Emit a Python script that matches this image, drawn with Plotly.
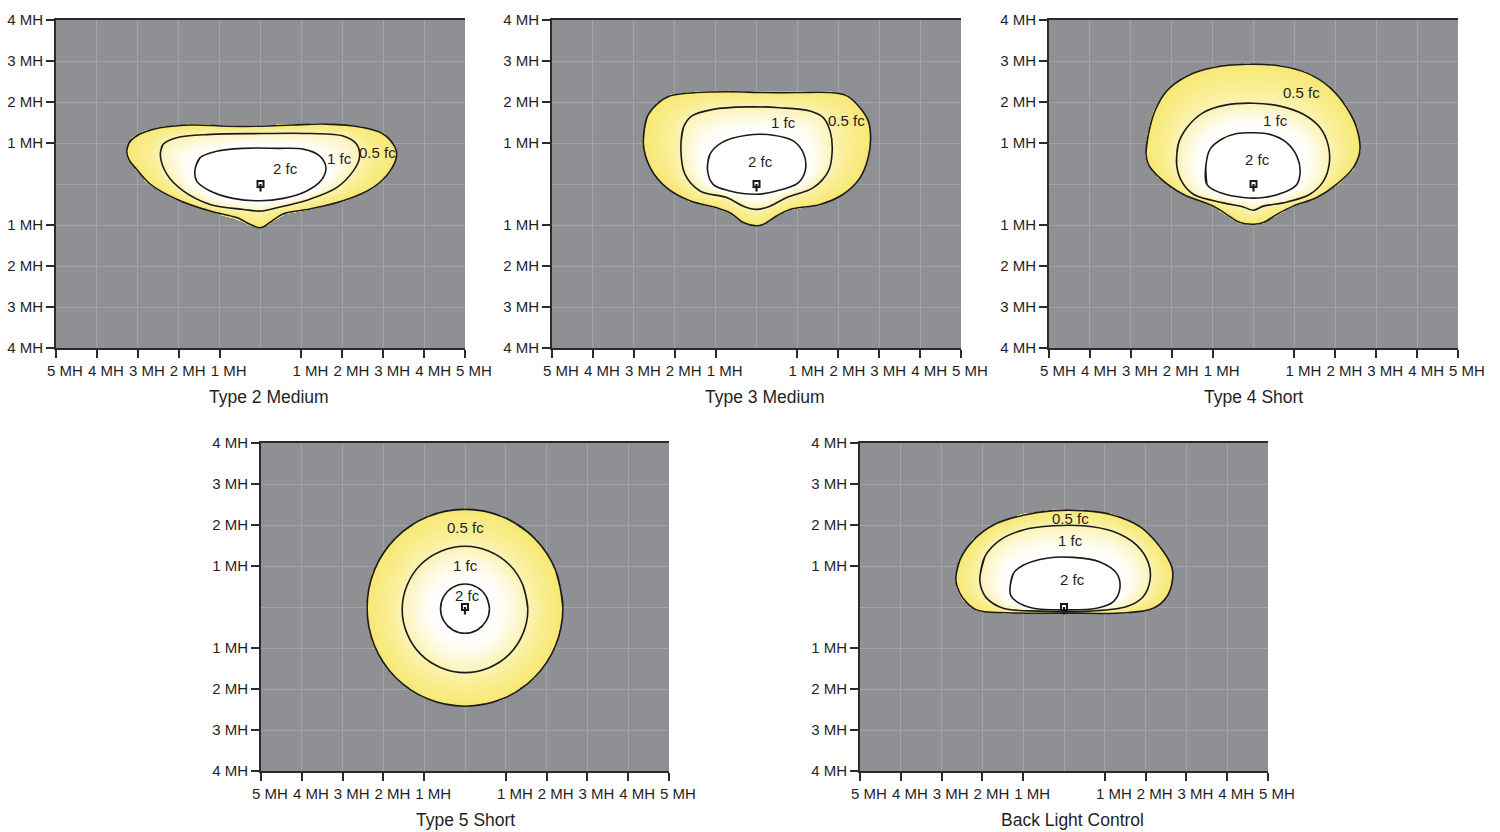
import numpy as np
import plotly.graph_objects as go

# ---------------- data (MH units, luminaire at origin) ----------------
PANEL_TITLES = ["Type 2 Medium", "Type 3 Medium", "Type 4 Short", "Type 5 Short", "Back Light Control"]
FC_LABELS = ["0.5 fc", "1 fc", "2 fc"]

X_TICK_VALUES = [-5, -4, -3, -2, -1, 1, 2, 3, 4, 5]
X_TICK_TEXT = ["5 MH", "4 MH", "3 MH", "2 MH", "1 MH", "1 MH", "2 MH", "3 MH", "4 MH", "5 MH"]
Y_TICK_VALUES = [-4, -3, -2, -1, 1, 2, 3, 4]
Y_TICK_TEXT = ["4 MH", "3 MH", "2 MH", "1 MH", "1 MH", "2 MH", "3 MH", "4 MH"]
GRID_VALUES_X = [-5, -4, -3, -2, -1, 0, 1, 2, 3, 4, 5]
GRID_VALUES_Y = [-4, -3, -2, -1, 0, 1, 2, 3, 4]
LUMINAIRE = (0.0, 0.0)

# Type 2 Medium
TYPE2_HALF_FC = [(-3.27, 0.80), (-3.22, 0.99), (-3.08, 1.14), (-2.85, 1.26), (-2.46, 1.37), (-1.64, 1.44),
                 (-0.83, 1.41), (0.0, 1.41), (0.79, 1.44), (1.62, 1.46), (2.43, 1.39), (3.0, 1.22),
                 (3.29, 0.89), (3.33, 0.70), (3.17, 0.32), (2.75, -0.09), (2.02, -0.41), (1.21, -0.61),
                 (0.55, -0.73), (0.23, -0.94), (0.0, -1.07), (-0.26, -0.98), (-0.58, -0.82),
                 (-1.23, -0.66), (-2.05, -0.37), (-2.70, 0.0), (-3.03, 0.36), (-3.22, 0.60)]
TYPE2_ONE_FC = [(-2.45, 0.72), (-2.38, 0.97), (-2.05, 1.13), (-1.23, 1.21), (0.0, 1.23), (1.21, 1.23),
                (2.02, 1.17), (2.35, 0.97), (2.42, 0.64), (2.27, 0.32), (1.86, -0.09), (1.21, -0.37),
                (0.40, -0.58), (0.0, -0.66), (-0.42, -0.62), (-1.23, -0.50), (-1.89, -0.17), (-2.29, 0.24)]
TYPE2_TWO_FC = [(-1.60, 0.36), (-1.48, 0.64), (-1.07, 0.80), (-0.42, 0.87), (0.40, 0.87), (1.05, 0.85),
                (1.45, 0.68), (1.60, 0.40), (1.50, 0.11), (1.13, -0.17), (0.56, -0.35), (0.0, -0.41),
                (-0.67, -0.35), (-1.23, -0.17), (-1.56, 0.07)]
TYPE2_LABEL_POS = [(2.85, 0.78), (1.94, 0.63), (0.60, 0.39)]

# Type 3 Medium
TYPE3_HALF_FC = [(-2.77, 1.01), (-2.68, 1.62), (-2.44, 1.94), (-2.11, 2.15), (-1.46, 2.23), (-0.65, 2.25),
                 (0.17, 2.23), (0.98, 2.23), (1.80, 2.23), (2.21, 2.15), (2.53, 1.86), (2.73, 1.54),
                 (2.79, 1.13), (2.73, 0.64), (2.53, 0.15), (2.12, -0.25), (1.55, -0.50), (0.82, -0.62),
                 (0.49, -0.78), (0.17, -0.98), (0.0, -1.02), (-0.32, -0.94), (-0.65, -0.70),
                 (-0.97, -0.58), (-1.63, -0.41), (-2.20, -0.09), (-2.60, 0.40)]
TYPE3_ONE_FC = [(-1.85, 0.89), (-1.79, 1.37), (-1.58, 1.66), (-1.06, 1.82), (-0.24, 1.88), (0.57, 1.86),
                (1.31, 1.78), (1.63, 1.62), (1.80, 1.29), (1.85, 0.80), (1.76, 0.32), (1.39, -0.09),
                (0.74, -0.33), (0.33, -0.54), (0.0, -0.62), (-0.32, -0.54), (-0.73, -0.33),
                (-1.38, -0.17), (-1.75, 0.24)]
TYPE3_TWO_FC = [(-1.20, 0.36), (-1.14, 0.72), (-0.85, 1.01), (-0.24, 1.19), (0.41, 1.19), (0.90, 1.05),
                (1.16, 0.72), (1.19, 0.32), (1.02, 0.03), (0.49, -0.17), (0.0, -0.25), (-0.65, -0.17),
                (-1.06, -0.01)]
TYPE3_LABEL_POS = [(2.19, 1.54), (0.67, 1.49), (0.09, 0.56)]

# Type 4 Short
TYPE4_HALF_FC = [(-2.63, 0.76), (-2.57, 1.21), (-2.41, 1.78), (-2.12, 2.27), (-1.63, 2.63), (-0.98, 2.84),
                 (-0.17, 2.92), (0.65, 2.88), (1.30, 2.71), (1.87, 2.35), (2.28, 1.86), (2.52, 1.37),
                 (2.60, 0.80), (2.44, 0.40), (2.03, -0.01), (1.55, -0.33), (0.97, -0.54), (0.57, -0.74),
                 (0.24, -0.94), (0.0, -0.98), (-0.33, -0.94), (-0.66, -0.74), (-0.98, -0.54),
                 (-1.72, -0.25), (-2.29, 0.15), (-2.57, 0.48)]
TYPE4_ONE_FC = [(-1.88, 0.48), (-1.84, 0.97), (-1.63, 1.37), (-1.23, 1.74), (-0.66, 1.93), (0.0, 1.97),
                (0.65, 1.90), (1.22, 1.70), (1.63, 1.37), (1.83, 0.93), (1.85, 0.48), (1.71, 0.07),
                (1.38, -0.25), (0.73, -0.46), (0.24, -0.54), (0.0, -0.64), (-0.25, -0.56),
                (-0.74, -0.46), (-1.47, -0.25), (-1.76, 0.07)]
TYPE4_TWO_FC = [(-1.14, -0.01), (-1.16, 0.48), (-1.06, 0.85), (-0.78, 1.09), (-0.41, 1.23), (0.0, 1.25),
                (0.40, 1.21), (0.81, 1.01), (1.06, 0.68), (1.14, 0.32), (1.06, -0.01), (0.73, -0.21),
                (0.24, -0.33), (-0.25, -0.33), (-0.82, -0.21)]
TYPE4_LABEL_POS = [(1.18, 2.22), (0.55, 1.54), (0.09, 0.59)]

# Type 5 Short
TYPE5_HALF_FC = [(2.40, -0.02), (2.22, 0.90), (1.70, 1.68), (0.92, 2.20), (0.0, 2.38), (-0.92, 2.20),
                 (-1.70, 1.68), (-2.22, 0.90), (-2.40, -0.02), (-2.22, -0.94), (-1.70, -1.72),
                 (-0.92, -2.24), (0.0, -2.42), (0.92, -2.24), (1.70, -1.72), (2.22, -0.94)]
TYPE5_ONE_FC = [(1.54, -0.06), (1.42, 0.53), (1.09, 1.03), (0.59, 1.36), (0.0, 1.48), (-0.59, 1.36),
                (-1.09, 1.03), (-1.42, 0.53), (-1.54, -0.06), (-1.42, -0.65), (-1.09, -1.15),
                (-0.59, -1.48), (0.0, -1.60), (0.59, -1.48), (1.09, -1.15), (1.42, -0.65)]
TYPE5_TWO_FC = [(0.60, -0.04), (0.52, 0.26), (0.30, 0.48), (0.0, 0.56), (-0.30, 0.48), (-0.52, 0.26),
                (-0.60, -0.04), (-0.52, -0.34), (-0.30, -0.56), (0.0, -0.64), (0.30, -0.56),
                (0.52, -0.34)]
TYPE5_LABEL_POS = [(0.02, 1.95), (0.02, 1.02), (0.07, 0.29)]

# Back Light Control
BLC_HALF_FC = [(-2.65, 0.74), (-2.55, 1.15), (-2.22, 1.63), (-1.73, 2.00), (-1.00, 2.24), (-0.26, 2.35),
               (0.47, 2.35), (1.21, 2.24), (1.86, 1.96), (2.35, 1.47), (2.64, 0.98), (2.66, 0.66),
               (2.52, 0.25), (2.19, -0.03), (1.54, -0.14), (0.07, -0.15), (-1.40, -0.14),
               (-2.14, -0.07), (-2.47, 0.21), (-2.62, 0.50)]
BLC_ONE_FC = [(-2.06, 0.74), (-1.94, 1.23), (-1.57, 1.63), (-1.00, 1.88), (-0.26, 1.98), (0.47, 1.98),
              (1.21, 1.84), (1.78, 1.51), (2.07, 1.07), (2.11, 0.66), (1.94, 0.25), (1.54, 0.01),
              (0.64, -0.10), (-0.59, -0.10), (-1.49, -0.03), (-1.89, 0.21), (-2.04, 0.50)]
BLC_TWO_FC = [(-1.32, 0.50), (-1.24, 0.82), (-1.00, 1.02), (-0.42, 1.19), (0.23, 1.21), (0.88, 1.10),
              (1.29, 0.82), (1.37, 0.46), (1.21, 0.13), (0.80, -0.03), (0.07, -0.07), (-0.75, -0.03),
              (-1.16, 0.13), (-1.31, 0.29)]
BLC_LABEL_POS = [(0.17, 2.17), (0.17, 1.61), (0.22, 0.68)]

PANEL_CONTOURS = [
    (TYPE2_HALF_FC, TYPE2_ONE_FC, TYPE2_TWO_FC, TYPE2_LABEL_POS),
    (TYPE3_HALF_FC, TYPE3_ONE_FC, TYPE3_TWO_FC, TYPE3_LABEL_POS),
    (TYPE4_HALF_FC, TYPE4_ONE_FC, TYPE4_TWO_FC, TYPE4_LABEL_POS),
    (TYPE5_HALF_FC, TYPE5_ONE_FC, TYPE5_TWO_FC, TYPE5_LABEL_POS),
    (BLC_HALF_FC, BLC_ONE_FC, BLC_TWO_FC, BLC_LABEL_POS),
]

# ---------------- layout / style ----------------
W, H = 1500, 832
PANEL_BOXES_PX = [(56, 465, 20, 348), (552, 961, 20, 348), (1049, 1458, 20, 348),
                  (261, 669, 443, 771), (860, 1268, 443, 771)]
TITLE_POS_PX = [(268.5, 397), (764.5, 397), (1253.5, 397), (465, 820), (1072.5, 820)]

FONT = "Liberation Sans, Arial, Helvetica, sans-serif"
TEXT_COLOR = "#1f1f1f"
PLOT_BG = "#8f9094"
GRID_COLOR = "#a4a5a9"
LINE_COLOR = "#1b1b1b"
AXIS_COLOR = "#2b2b2b"
GRADIENT = [[0.0, "#f7e874"], [0.28, "#f9ee92"], [0.5, "#fbf3b6"], [0.68, "#fdf9dc"], [0.82, "#fffdf6"],
            [1.0, "#ffffff"]]
STEP = 0.025


def poly_metrics(X, Y, P):
    P = np.asarray(P, float)
    x1, y1 = P[:, 0], P[:, 1]
    x2, y2 = np.roll(x1, -1), np.roll(y1, -1)
    Xf, Yf = X[..., None], Y[..., None]
    dx, dy = x2 - x1, y2 - y1
    t = ((Xf - x1) * dx + (Yf - y1) * dy) / (dx * dx + dy * dy)
    t = np.clip(t, 0, 1)
    d = np.hypot(Xf - (x1 + t * dx), Yf - (y1 + t * dy)).min(-1)
    cond = (y1 > Yf) != (y2 > Yf)
    safe_dy = np.where(dy == 0, 1e-12, dy)
    xint = x1 + (Yf - y1) * dx / safe_dy
    inside = ((cond & (Xf < xint)).sum(-1) % 2) == 1
    return d, inside


fig = go.Figure()
annotations = []

for i, (half, one, two, label_pos) in enumerate(PANEL_CONTOURS):
    sfx = "" if i == 0 else str(i + 1)
    xa, ya = "x" + sfx, "y" + sfx
    P0 = np.asarray(half, float)
    xs = np.arange(P0[:, 0].min() - 0.08, P0[:, 0].max() + 0.08, STEP)
    ys = np.arange(P0[:, 1].min() - 0.08, P0[:, 1].max() + 0.08, STEP)
    X, Y = np.meshgrid(xs, ys)
    d0, in0 = poly_metrics(X, Y, half)
    d1, in1 = poly_metrics(X, Y, one)
    d2, in2 = poly_metrics(X, Y, two)
    s = np.zeros_like(X)
    between = in0 & ~in1
    s[between] = d0[between] / (d0[between] + d1[between])
    mid = in1 & ~in2
    s[mid] = 1 + d1[mid] / (d1[mid] + d2[mid])
    s[in2] = 2.0
    mask = in0 | (d0 < 0.025)
    z = [[(round(float(v), 3) if m else None) for v, m in zip(rs, rm)] for rs, rm in zip(s, mask)]
    fig.add_trace(go.Heatmap(x=np.round(xs, 4), y=np.round(ys, 4), z=z, zmin=0, zmax=2,
                             colorscale=GRADIENT, showscale=False, hoverinfo="skip",
                             zsmooth=False, xaxis=xa, yaxis=ya))
    for poly in (half, one, two):
        pts = list(poly) + [poly[0], poly[1]]
        fig.add_trace(go.Scatter(x=[p[0] for p in pts], y=[p[1] for p in pts], mode="lines",
                                 line=dict(color=LINE_COLOR, width=1.6, shape="spline", smoothing=1.0),
                                 hoverinfo="skip", showlegend=False, xaxis=xa, yaxis=ya))
    # luminaire symbol: stem (arrow-less annotation line) + square head
    annotations.append(dict(x=LUMINAIRE[0], y=LUMINAIRE[1], xref=xa, yref=ya, text="", showarrow=True,
                            arrowhead=0, arrowwidth=2.2, arrowcolor=LINE_COLOR, ax=0, ay=9,
                            standoff=0, startstandoff=0))
    fig.add_trace(go.Scatter(x=[LUMINAIRE[0]], y=[LUMINAIRE[1]], mode="markers",
                             marker=dict(symbol="square", size=6, color="white",
                                         line=dict(color=LINE_COLOR, width=2)),
                             hoverinfo="skip", showlegend=False, xaxis=xa, yaxis=ya))
    for text, (lx, ly) in zip(FC_LABELS, label_pos):
        annotations.append(dict(x=lx, y=ly, xref=xa, yref=ya, text=text, showarrow=False,
                                font=dict(size=15, color=TEXT_COLOR, family=FONT)))

    x0, x1, y0, y1 = PANEL_BOXES_PX[i]
    common = dict(showline=True, linecolor=AXIS_COLOR, linewidth=2, ticks="outside", ticklen=8,
                  tickwidth=1.5, tickcolor=AXIS_COLOR, showgrid=False, zeroline=False,
                  tickfont=dict(size=15, color=TEXT_COLOR, family=FONT), fixedrange=True,
                  automargin=False)
    fig.update_layout({
        "xaxis" + sfx: dict(domain=[x0 / W, x1 / W], anchor=ya, range=[-5, 5],
                            tickvals=X_TICK_VALUES, ticktext=X_TICK_TEXT, mirror=True,
                            ticklabelshift=9,
                            minor=dict(tickvals=GRID_VALUES_X, showgrid=True, gridcolor=GRID_COLOR,
                                       gridwidth=1, ticks=""),
                            **common),
        "yaxis" + sfx: dict(domain=[1 - y1 / H, 1 - y0 / H], anchor=xa, range=[-4, 4],
                            tickvals=Y_TICK_VALUES, ticktext=Y_TICK_TEXT, ticklabelstandoff=0,
                            minor=dict(tickvals=GRID_VALUES_Y, showgrid=True, gridcolor=GRID_COLOR,
                                       gridwidth=1, ticks=""),
                            **common),
    })
    tx, ty = TITLE_POS_PX[i]
    annotations.append(dict(x=tx / W, y=1 - ty / H, xref="paper", yref="paper", text=PANEL_TITLES[i],
                            showarrow=False, xanchor="center", yanchor="middle",
                            font=dict(size=17.5, color=TEXT_COLOR, family=FONT)))

fig.update_layout(width=W, height=H, margin=dict(l=0, r=0, t=0, b=0, autoexpand=False),
                  paper_bgcolor="white", plot_bgcolor=PLOT_BG, showlegend=False,
                  annotations=annotations, font=dict(family=FONT, color=TEXT_COLOR))

fig.write_html("out.html", config={"displayModeBar": False},
               post_script="document.body.style.margin='0px';document.body.style.overflow='hidden';")
